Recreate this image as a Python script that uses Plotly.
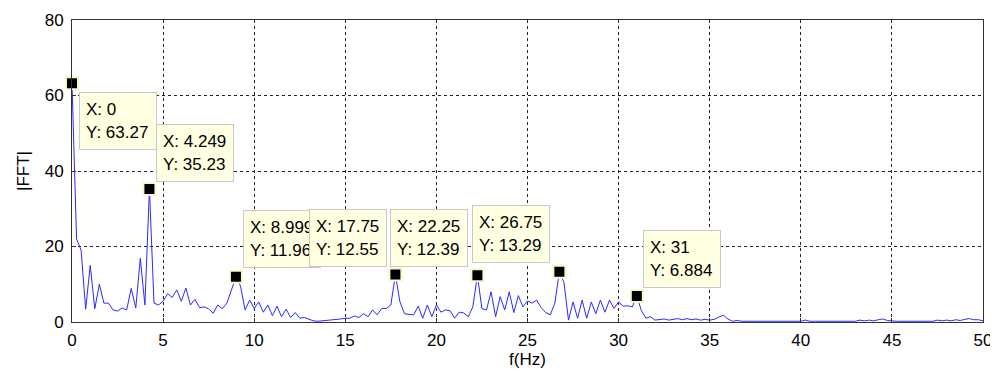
import plotly.graph_objects as go

magnitude = [
    63.27, 22.0, 19.0, 3.4, 15.0, 3.5, 10.0, 5.0, 5.0, 3.2,
    2.9, 3.7, 3.2, 8.9, 3.7, 16.9, 4.5, 35.23, 5.0, 4.5,
    5.5, 7.5, 6.5, 8.5, 5.5, 9.0, 4.5, 6.0, 3.8, 4.0,
    3.5, 2.3, 4.5, 3.5, 5.0, 8.5, 11.96, 9.5, 3.2, 5.8,
    3.6, 5.3, 2.6, 4.5, 1.7, 4.2, 1.4, 3.4, 1.2, 2.5,
    1.0, 1.2, 0.7, 0.3, 0.2, 0.3, 0.4, 0.4, 0.6, 0.8,
    1.0, 1.0, 1.6, 1.2, 2.2, 1.4, 3.2, 1.9, 3.6, 3.6,
    4.5, 12.55, 5.3, 2.2, 2.0, 1.9, 4.2, 1.0, 4.5, 1.4,
    4.5, 2.6, 3.2, 3.0, 1.0, 2.6, 2.4, 1.4, 4.0, 12.39,
    3.5, 3.2, 8.0, 1.4, 6.7, 3.2, 8.0, 2.5, 7.0, 4.0,
    5.6, 5.0, 5.8, 3.8, 2.5, 1.9, 5.0, 13.29, 10.5, 0.5,
    5.3, 1.0, 5.8, 1.0, 5.3, 2.2, 5.8, 2.6, 5.8, 3.6,
    5.3, 4.2, 4.3, 4.0, 6.884, 3.0, 1.0, 1.4, 0.5, 0.6,
    0.8, 0.5, 0.7, 0.9, 0.6, 0.9, 0.6, 0.8, 0.5, 0.7,
    0.5, 0.7, 1.3, 1.8, 0.8, 0.2, 0.4, 0.2, 0.2, 0.2,
    0.2, 0.2, 0.2, 0.2, 0.2, 0.2, 0.2, 0.2, 0.2, 0.2,
    0.2, 0.5, 0.2, 0.2, 0.2, 0.2, 0.2, 0.2, 0.2, 0.2,
    0.2, 0.2, 0.2, 0.5, 0.3, 0.5, 0.3, 0.6, 0.8, 0.4,
    0.2, 0.2, 0.2, 0.2, 0.2, 0.2, 0.2, 0.2, 0.2, 0.2,
    0.5, 0.3, 0.5, 0.3, 0.6, 0.4, 0.7, 0.9, 0.6, 0.6,
    0.3,
]
freq_step = 0.25
frequency = [i * freq_step for i in range(len(magnitude))]

# data tips
tip_x = [0, 4.249, 8.999, 17.75, 22.25, 26.75, 31]
tip_y = [63.27, 35.23, 11.96, 12.55, 12.39, 13.29, 6.884]
tip_x_label = ["0", "4.249", "8.999", "17.75", "22.25", "26.75", "31"]
tip_y_label = ["63.27", "35.23", "11.96", "12.55", "12.39", "13.29", "6.884"]

x_ticks = [0, 5, 10, 15, 20, 25, 30, 35, 40, 45, 50]
y_ticks = [0, 20, 40, 60, 80]

FONT = "Liberation Sans, Arial, sans-serif"

fig = go.Figure()
fig.add_trace(go.Scatter(
    x=frequency, y=magnitude, mode="lines",
    line=dict(color="#2a2aff", width=1), hoverinfo="skip", showlegend=False,
))
fig.add_trace(go.Scatter(
    x=tip_x, y=tip_y, mode="markers",
    marker=dict(symbol="square", size=12, color="black",
                line=dict(color="#f7f7c8", width=2)),
    cliponaxis=False, showlegend=False,
))

# placement of each tip box: (xanchor, xshift, yanchor, yshift)
placements = [
    ("left", 7, "top", -9),
    ("left", 7, "bottom", 7),
    ("left", 7, "bottom", 9),
    ("right", -8, "bottom", 8),
    ("right", -9, "bottom", 8),
    ("right", -9, "bottom", 9),
    ("left", 6, "bottom", 8),
]
for xv, yv, xl, yl, (xa, xs, ya, ys) in zip(tip_x, tip_y, tip_x_label, tip_y_label, placements):
    fig.add_annotation(
        x=xv, y=yv, xref="x", yref="y",
        text=f"X: {xl}<br>Y: {yl}",
        showarrow=False, xanchor=xa, yanchor=ya, xshift=xs, yshift=ys,
        align="left", width=64, height=44,
        bgcolor="#ffffe1", bordercolor="#c8c8c8", borderwidth=1, borderpad=6,
        font=dict(family=FONT, size=17, color="black"),
    )

axis_common = dict(
    showline=True, mirror=True, linecolor="#333333", linewidth=1,
    showgrid=True, gridcolor="#222222", griddash="3px,3px", gridwidth=1,
    ticks="inside", ticklen=4, tickcolor="#333333",
    tickfont=dict(family=FONT, size=17, color="black"),
    zeroline=False, automargin=False,
)
fig.update_xaxes(range=[0, 50], tickvals=x_ticks, ticklabelstandoff=3, **axis_common,
                 title=dict(text="f(Hz)", font=dict(family=FONT, size=17, color="black"), standoff=2))
fig.update_yaxes(range=[0, 80], tickvals=y_ticks, ticklabelstandoff=4, **axis_common,
                 title=dict(text="|FFT|", font=dict(family=FONT, size=17, color="black"), standoff=10))

# the page body adds an 8 px margin around the figure
fig.update_layout(
    width=990, height=368,
    margin=dict(l=64, r=15, t=12, b=54),
    paper_bgcolor="white", plot_bgcolor="white",
    font=dict(family=FONT),
)

fig.write_html("out.html")
